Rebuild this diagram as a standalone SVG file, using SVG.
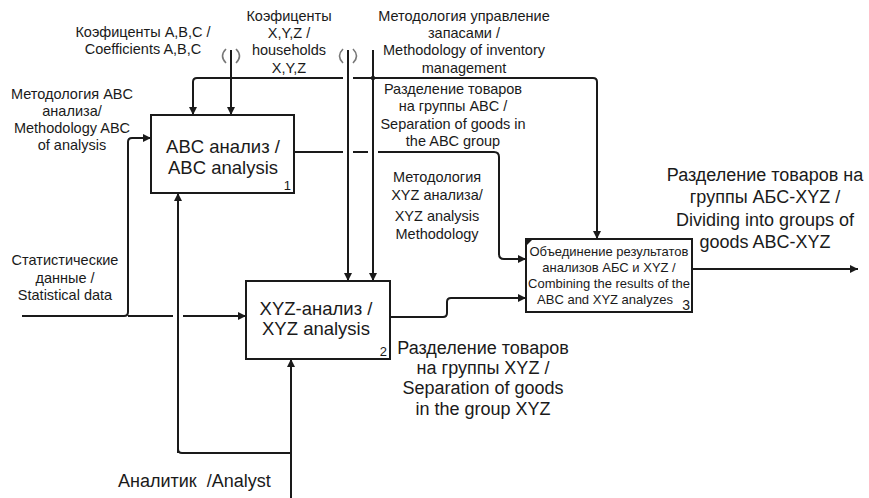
<svg xmlns="http://www.w3.org/2000/svg" width="869" height="498" viewBox="0 0 869 498">
<style>
text{font-family:"Liberation Sans",Arial,sans-serif;fill:#1a1a1a}
.s{font-size:14.5px;text-anchor:middle}
.m{font-size:18.5px;text-anchor:middle}
.l{font-size:18px;text-anchor:middle}
.t{font-size:13px;text-anchor:middle}
.n{font-size:13px;text-anchor:end}
.box{fill:#fff;stroke:#1a1a1a;stroke-width:2}
.c{fill:none;stroke:#1a1a1a;stroke-width:2}
.tun{fill:none;stroke:#777;stroke-width:1.6}
</style>
<defs>
<marker id="a" viewBox="0 0 10 10" refX="10" refY="5" markerWidth="10" markerHeight="8" markerUnits="userSpaceOnUse" orient="auto">
<path d="M0,0 L10,5 L0,10 z" fill="#1a1a1a"/>
</marker>
</defs>
<rect width="869" height="498" fill="#fff"/>

<g id="connectors">
<path class="c" d="M231,50 V115" marker-end="url(#a)"/>
<path class="tun" d="M226,49 Q219,56 226,63 M236,49 Q243,56 236,63"/>
<path class="c" d="M348,50 V281" marker-end="url(#a)"/>
<path class="tun" d="M343,49 Q336,56 343,63 M353,49 Q360,56 353,63"/>
<path class="c" d="M373,50 V281" marker-end="url(#a)"/>
<path class="c" d="M343,78 H197 Q193,78 193,82 V115" marker-end="url(#a)"/>
<path class="c" d="M353,78 H593 Q597,78 597,82 V239" marker-end="url(#a)"/>
<circle cx="373" cy="78" r="2.2" fill="#1a1a1a"/>
<path class="c" d="M294,152 H343 M353,152 H368 M378,152 H494 Q499,152 499,157 V254 Q499,259 504,259 H526" marker-end="url(#a)"/>
<path class="c" d="M390,317 H443 Q447,317 447,313 V302 Q447,298 451,298 H526" marker-end="url(#a)"/>
<path class="c" d="M22,316 H124 Q128,316 128,312 V142 Q128,138 132,138 H151" marker-end="url(#a)"/>
<path class="c" d="M178,453 V193" marker-end="url(#a)"/>
<path class="c" d="M128,316 H173 M183,316 H246" marker-end="url(#a)"/>
<path class="c" d="M291,498 V359" marker-end="url(#a)"/>
<path class="c" d="M291,453 H182 Q178,453 178,449"/>
<path class="c" d="M692,269 H858" marker-end="url(#a)"/>
</g>

<g id="node1">
<rect class="box" x="151" y="115" width="143" height="78"/>
<text class="m" x="223" y="153">ABC анализ /</text>
<text class="m" x="223" y="174">ABC analysis</text>
<text class="n" x="291" y="190">1</text>
</g>

<g id="node2">
<rect class="box" x="246" y="281" width="144" height="78"/>
<text class="m" x="316" y="315">XYZ-анализ /</text>
<text class="m" x="316" y="335">XYZ analysis</text>
<text class="n" x="387" y="356">2</text>
</g>

<g id="node3">
<rect class="box" x="526" y="239" width="166" height="73"/>
<path d="M527,240 H532 L527,245 z" fill="#1a1a1a"/>
<text class="t" x="609" y="255.5">Объединение результатов</text>
<text class="t" x="609" y="271.5">анализов АБС и XYZ /</text>
<text class="t" x="609" y="287.5">Combining the results of the</text>
<text class="t" x="605" y="303.5">ABC and XYZ analyzes</text>
<text class="n" x="690" y="310" style="font-size:14px">3</text>
</g>

<g id="labels">
<text class="s"><tspan x="143" y="37">Коэфиценты A,B,C /</tspan><tspan x="143" y="54">Coefficients A,B,C</tspan></text>
<text class="s"><tspan x="289" y="21">Коэфиценты</tspan><tspan x="289" y="38">X,Y,Z /</tspan><tspan x="289" y="55">households</tspan><tspan x="289" y="73">X,Y,Z</tspan></text>
<text class="s"><tspan x="464" y="21">Методология управление</tspan><tspan x="464" y="38">запасами /</tspan><tspan x="464" y="55">Methodology of inventory</tspan><tspan x="464" y="73">management</tspan></text>
<text class="s"><tspan x="72" y="99">Методология ABC</tspan><tspan x="72" y="116">анализа/</tspan><tspan x="72" y="133">Methodology ABC</tspan><tspan x="72" y="150">of analysis</tspan></text>
<text class="s"><tspan x="453" y="94">Разделение товаров</tspan><tspan x="453" y="111">на группы ABC /</tspan><tspan x="453" y="129">Separation of goods in</tspan><tspan x="453" y="146">the ABC group</tspan></text>
<text class="s"><tspan x="437" y="182">Методология</tspan><tspan x="437" y="200">XYZ анализа/</tspan><tspan x="437" y="221">XYZ analysis</tspan><tspan x="437" y="239">Methodology</tspan></text>
<text class="l"><tspan x="765" y="181">Разделение товаров на</tspan><tspan x="765" y="203">группы АБС-XYZ /</tspan><tspan x="765" y="226">Dividing into groups of</tspan><tspan x="765" y="248">goods ABC-XYZ</tspan></text>
<text class="s"><tspan x="65" y="265">Статистические</tspan><tspan x="65" y="283">данные /</tspan><tspan x="65" y="300">Statistical data</tspan></text>
<text class="l"><tspan x="483" y="354">Разделение товаров</tspan><tspan x="483" y="374">на группы XYZ /</tspan><tspan x="483" y="394">Separation of goods</tspan><tspan x="483" y="415">in the group XYZ</tspan></text>
<text x="118" y="487" style="font-size:18px;white-space:pre" xml:space="preserve">Аналитик  /Analyst</text>
</g>
</svg>
